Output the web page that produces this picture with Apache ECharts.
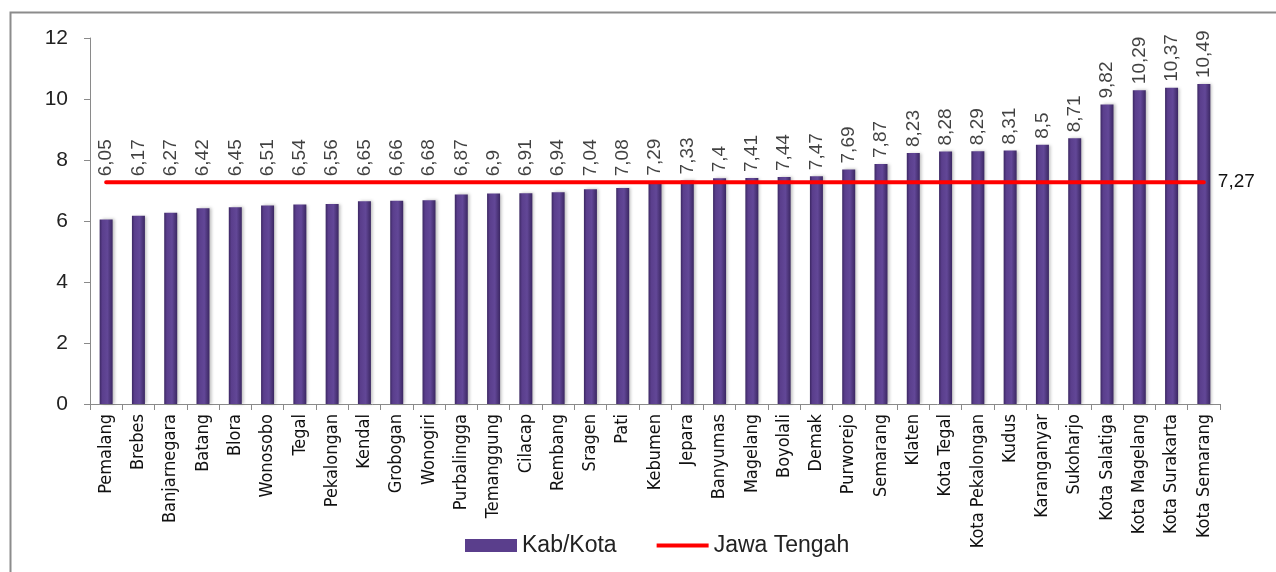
<!DOCTYPE html>
<html>
<head>
<meta charset="utf-8">
<script src="https://cdn.jsdelivr.net/npm/echarts@6/dist/echarts.min.js"></script>
<style>
  html, body { margin: 0; padding: 0; background: #fff; }
  #chart { width: 1276px; height: 572px; }
</style>
</head>
<body>
<div id="chart"></div>
<script>
var categories = ['Pemalang', 'Brebes', 'Banjarnegara', 'Batang', 'Blora', 'Wonosobo', 'Tegal',
    'Pekalongan', 'Kendal', 'Grobogan', 'Wonogiri', 'Purbalingga', 'Temanggung', 'Cilacap',
    'Rembang', 'Sragen', 'Pati', 'Kebumen', 'Jepara', 'Banyumas', 'Magelang', 'Boyolali',
    'Demak', 'Purworejo', 'Semarang', 'Klaten', 'Kota Tegal', 'Kota Pekalongan', 'Kudus',
    'Karanganyar', 'Sukoharjo', 'Kota Salatiga', 'Kota Magelang', 'Kota Surakarta', 'Kota Semarang'];
var kabKota = [6.05, 6.17, 6.27, 6.42, 6.45, 6.51, 6.54, 6.56, 6.65, 6.66, 6.68, 6.87, 6.9, 6.91,
    6.94, 7.04, 7.08, 7.29, 7.33, 7.4, 7.41, 7.44, 7.47, 7.69, 7.87, 8.23, 8.28, 8.29, 8.31,
    8.5, 8.71, 9.82, 10.29, 10.37, 10.49];
var jawaTengah = 7.27;
var yTicks = [0, 2, 4, 6, 8, 10, 12];

function fmt(v) {
    return String(v).replace('.', ',');
}

var chart = echarts.init(document.getElementById('chart'));

var barColor = new echarts.graphic.LinearGradient(0, 0, 1, 0, [
    { offset: 0, color: '#3b2762' },
    { offset: 0.2, color: '#5a3e8c' },
    { offset: 0.6, color: '#624797' },
    { offset: 1, color: '#3b2762' }
]);

chart.setOption({
    animation: false,
    textStyle: { fontFamily: 'Liberation Sans, Arial, sans-serif' },
    graphic: [{
        type: 'rect',
        shape: { x: 10.5, y: 12.5, width: 1300, height: 600 },
        style: { fill: 'none', stroke: '#8c8c8c', lineWidth: 2 }
    }],
    grid: { left: 90, right: 56, top: 38, bottom: 168 },
    legend: {
        bottom: 10,
        left: 460,
        itemGap: 40,
        itemWidth: 52,
        itemHeight: 13,
        textStyle: { fontSize: 23, color: '#222' },
        data: [
            { name: 'Kab/Kota', icon: 'rect', itemStyle: { color: '#5a3e8c' } },
            { name: 'Jawa Tengah', icon: 'path://M0,0 L52,0 L52,4 L0,4 Z', itemStyle: { color: '#ff0000' } }
        ]
    },
    xAxis: {
        type: 'category',
        data: categories,
        axisLine: { lineStyle: { color: '#8a8a8a' } },
        axisTick: { show: true, length: 6, lineStyle: { color: '#8a8a8a' } },
        axisLabel: {
            rotate: 90,
            interval: 0,
            margin: 10,
            fontSize: 18,
            color: '#111',
            fontFamily: 'Liberation Sans Narrow, DejaVu Sans Condensed, sans-serif'
        }
    },
    yAxis: {
        type: 'value',
        min: yTicks[0],
        max: yTicks[yTicks.length - 1],
        interval: 2,
        axisLine: { show: true, lineStyle: { color: '#8a8a8a' } },
        axisTick: { show: true, inside: false, length: 6, lineStyle: { color: '#8a8a8a' } },
        splitLine: { show: false },
        axisLabel: { fontSize: 21, color: '#222', margin: 22 }
    },
    series: [{
        name: 'Kab/Kota',
        type: 'bar',
        data: kabKota,
        barWidth: 13,
        itemStyle: {
            color: barColor,
            shadowColor: 'rgba(0,0,0,0.25)',
            shadowBlur: 3,
            shadowOffsetX: 2
        }
    }, {
        // carrier for the value labels: sits at the bar top or on the red line, whichever is higher
        name: 'labels',
        type: 'scatter',
        symbolSize: 0,
        silent: true,
        z: 5,
        data: kabKota.map(function(v) { return Math.max(v, jawaTengah); }),
        label: {
            show: true,
            position: 'top',
            rotate: 90,
            align: 'left',
            verticalAlign: 'middle',
            distance: 6,
            fontSize: 19,
            color: '#111',
            formatter: function(p) { return fmt(kabKota[p.dataIndex]); }
        }
    }, {
        name: 'Jawa Tengah',
        type: 'line',
        data: categories.map(function() { return jawaTengah; }),
        symbol: 'none',
        z: 4,
        lineStyle: { color: '#ff0000', width: 4, cap: 'round' },
        itemStyle: { color: '#ff0000' },
        endLabel: {
            show: true,
            distance: 14,
            fontSize: 19,
            color: '#111',
            formatter: function() { return fmt(jawaTengah); }
        }
    }]
});
</script>
</body>
</html>
